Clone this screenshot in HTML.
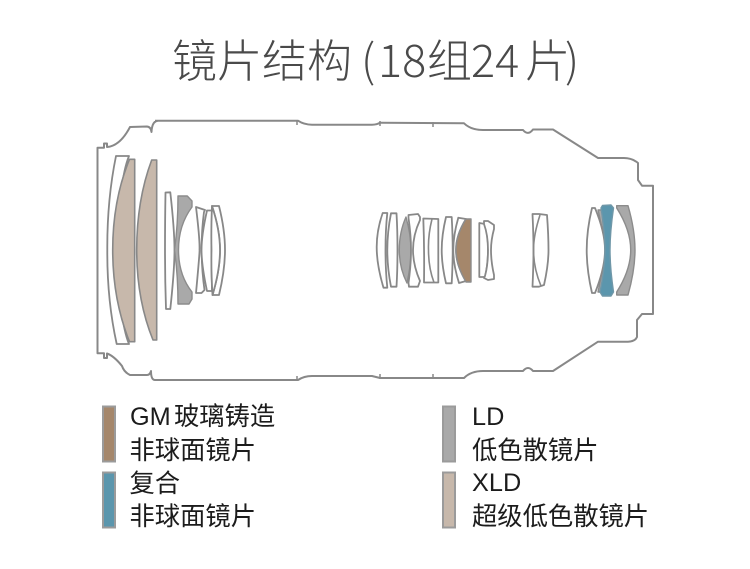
<!DOCTYPE html>
<html><head><meta charset="utf-8">
<style>
html,body{margin:0;padding:0;background:#fff;width:750px;height:569px;overflow:hidden}
svg{display:block}
text{font-family:"Liberation Sans","Noto Sans CJK SC",sans-serif}
.t{fill:#4a4a4a;font-size:45px;font-weight:300;font-family:"Noto Sans CJK SC","Liberation Sans",sans-serif}
.l{fill:#1c1c1c;font-size:25.3px}
.o{fill:none;stroke:#888;stroke-width:2;stroke-linejoin:round}
.w{fill:#fff;stroke:#888;stroke-width:1.8;stroke-linejoin:round}
.x{fill:#c7b8ab;stroke:#888;stroke-width:1.6;stroke-linejoin:round}
.g{fill:#a9a9a9;stroke:#8c8c8c;stroke-width:1.4;stroke-linejoin:round}
.b{fill:#a5876b;stroke:#8c8c8c;stroke-width:1.4;stroke-linejoin:round}
.c{fill:#5b96ad;stroke:#6f97a8;stroke-width:1.4;stroke-linejoin:round}
</style></head><body>
<svg width="750" height="569" viewBox="0 0 750 569" xmlns="http://www.w3.org/2000/svg">
<text class="t" x="172" y="77">镜片结构</text>
<text class="t" x="361" y="77">(</text>
<text class="t" x="378" y="77">18</text>
<text class="t" x="427" y="77">组</text>
<text class="t" x="471" y="77">24</text>
<text class="t" x="525" y="77">片</text>
<text class="t" x="565" y="77">)</text>

<path class="o" d="M155,120.7 L298,120.7 Q304,124.7 312,124.7 L372,124.7 Q377,124.7 380,122.7 L464,123.3 Q471,130 483,130 L523,130 Q528,136 533,129.5 L553,129.5 L598,158 L624,158 Q632,158 638,163 L638,180 L642,185.7 L653,185.7 L653,314 L642,314 L637,320 L637,337 Q635,341.7 628,341.7 L598,341.7 L553,371 L533,371 Q528,365 523,371 L483,371 Q471,371 464,378 L380,378 L372,376 L312,376 Q304,376 298,380 L155,380 Q151,380 151,371 Q150,375 147,375 L130,375 Q124,372 122,366 Q114,356 107,353.5 L107,358 L104,358 L104,353.3 L97.5,353.3 L97.5,147.7 L104,147.7 L104,143.5 L107,143.5 L107,147 Q120,146 130,127 L147,126.5 Q151,127 151.5,132 Q152,121 158,120.7"/>
<g stroke="#888" stroke-width="1.5"><path d="M297,120v5M380,121v5M433,122v5M297,381v-5M380,379v-5M433,379v-5"/></g>

<path class="w" d="M116,156 L129,156 Q119,180 118,250 Q119,320 129,344 L116.7,344 Q107,300 107.3,250 Q107,200 116,156Z"/>
<path class="x" d="M129.5,159.3 L134.7,159.3 L134.7,341.7 L129.5,341.7 Q112.7,300 112.7,250 Q112.7,200 129.5,159.3Z"/>
<path class="x" d="M151.7,160 L156.7,160 L156.7,340 L153,340 Q136.7,300 136.7,250 Q136.7,200 151.7,160Z"/>
<path class="w" d="M165.5,192.5 L170.3,192.3 Q174.5,230 174.5,250 Q174.5,270 170.3,309 L166,309 Q165,280 165,250 Q165,220 165.5,192.5Z"/>
<path class="g" d="M178,196 L187.3,196 L192,201 L192,207 Q178.5,225 178.5,250 Q178.5,275 192,292 L192,299 L189,304 L178,304 Q178,275 174.5,250 Q178,225 178,196Z"/>
<path class="w" d="M196,207 L205,210 L204,212 Q199,250 204.5,290 L201.5,293 L196,293 Q200,250 199.5,250 Q200,240 196,207Z"/>
<path class="w" d="M207,210.5 L212,210.5 Q211,250 212,291 L207,291 Q201.5,265 201.5,250 Q201.5,235 207,210.5Z"/>
<path class="w" d="M212,206 L219,206 Q225,230 225,250 Q225,270 219,295 L212.5,295 Q220,270 220,250 Q220,230 212,206Z"/>
<path class="w" d="M212,206 Q220,230 220,250 Q220,270 212.5,295 Q211,270 211.5,250 Q211,230 212,206Z"/>

<path class="w" d="M382.7,213 L387.3,213 Q385.5,230 385.5,250 Q385.5,270 387.3,287.7 L383.5,287.7 Q376.7,265 376.7,247 Q376.7,230 382.7,213Z"/>
<path class="w" d="M391,213.3 L396.5,213.3 Q397.5,230 397.5,250 Q397.5,270 396.5,286.7 L391,286.7 Q387.3,268 387.3,250 Q387.3,232 391,213.3Z"/>
<path class="g" d="M406,217 Q411,235 411,250 Q411,265 407,283 Q399.3,268 399.3,250 Q399.3,232 406,217Z"/>
<path class="w" d="M408.5,215 L418,214 L420,217 L420,220 Q413,235 413,250 Q413,265 420,281 L418,286.7 L409,286.7 L408.5,283 Q411,265 411,250 Q411,235 408.5,218Z"/>
<path class="w" d="M423.3,218.5 L438.3,219 L438.3,282.5 L424,282.5 Q424.5,250 423.3,218.5Z"/>
<path class="o" style="stroke-width:1.6" d="M432,219 Q428,235 428.5,250 Q428.5,268 434,282.5"/>
<path class="w" d="M446,217 L451.7,217 Q452.7,235 452.7,250 Q452.7,265 451.7,283.3 L446,283.3 Q441.7,265 441.7,250 Q441.7,235 446,217Z"/>
<path class="w" d="M458.3,217.7 L466,219 Q456,235 456,250 Q456,265 466,281 L459,283 Q453.3,265 453.3,250 Q453.3,235 458.3,217.7Z"/>
<path class="b" d="M466,219 L471,219 L471,282 L466,282 Q456,265 456,250 Q456,235 466,219Z"/>
<path class="w" d="M479.3,223 L485,224 Q488,235 488,250 Q488,265 485,277 L479.3,277Z"/>
<path class="w" d="M484,221 L488,221 L494,225 L494,229 Q491,240 491,250 Q491,262 494,275 L494,279 L488,280 L484,278 L485,276 Q488,265 488,250 Q488,235 484,224Z"/>

<path class="w" d="M532.5,214 L539,214 L547,215 Q548.5,235 548.5,250 Q548.5,265 544,285 L539,286.7 L532.5,286.7 Q533.5,265 533.5,250 Q533.5,235 532.5,214Z"/>
<path class="o" style="stroke-width:1.6" d="M540,215 Q533.5,235 533.5,250 Q533.5,268 541,286"/>

<path class="g" d="M598,210 L602,210 L605,250 L602,292 L598,292 Q604,265 604,250 Q604,235 598,210Z"/>
<path class="w" d="M592,208 L595,208 Q605,232 605,250 Q605,268 595,293 L592,293 Q586.7,270 586.7,250 Q586.7,230 592,208Z"/>
<path class="c" d="M602.5,205.5 L611,205 L613.5,208 Q610,232 610,250 Q610,268 613.5,292 L611,296 L602.5,296 L600,292 Q605,268 605,250 Q605,232 601,208Z"/>
<path class="g" d="M616.7,205.7 L628,205.7 Q635,230 635,250 Q635,270 628,295 L616.7,295 L616.7,292 Q630.7,270 630.7,250 Q630.7,230 616.7,208Z"/>

<rect x="103" y="406.5" width="12" height="55" fill="#a5876b" stroke="#9b9b9b" stroke-width="2"/>
<rect x="103" y="472.5" width="12" height="55" fill="#5b96ad" stroke="#9b9b9b" stroke-width="2"/>
<rect x="443" y="406.5" width="12" height="55" fill="#a9a9a9" stroke="#9b9b9b" stroke-width="2"/>
<rect x="443" y="472.5" width="12" height="55" fill="#c7b8ab" stroke="#9b9b9b" stroke-width="2"/>

<text class="l" x="130" y="425">GM</text>
<text class="l" x="174" y="425">玻璃铸造</text>
<text class="l" x="129.5" y="459">非球面镜片</text>
<text class="l" x="129.5" y="492">复合</text>
<text class="l" x="129.5" y="525">非球面镜片</text>
<text class="l" x="472" y="425">LD</text>
<text class="l" x="472" y="459">低色散镜片</text>
<text class="l" x="472" y="491">XLD</text>
<text class="l" x="472" y="525">超级低色散镜片</text>
</svg>
</body></html>
